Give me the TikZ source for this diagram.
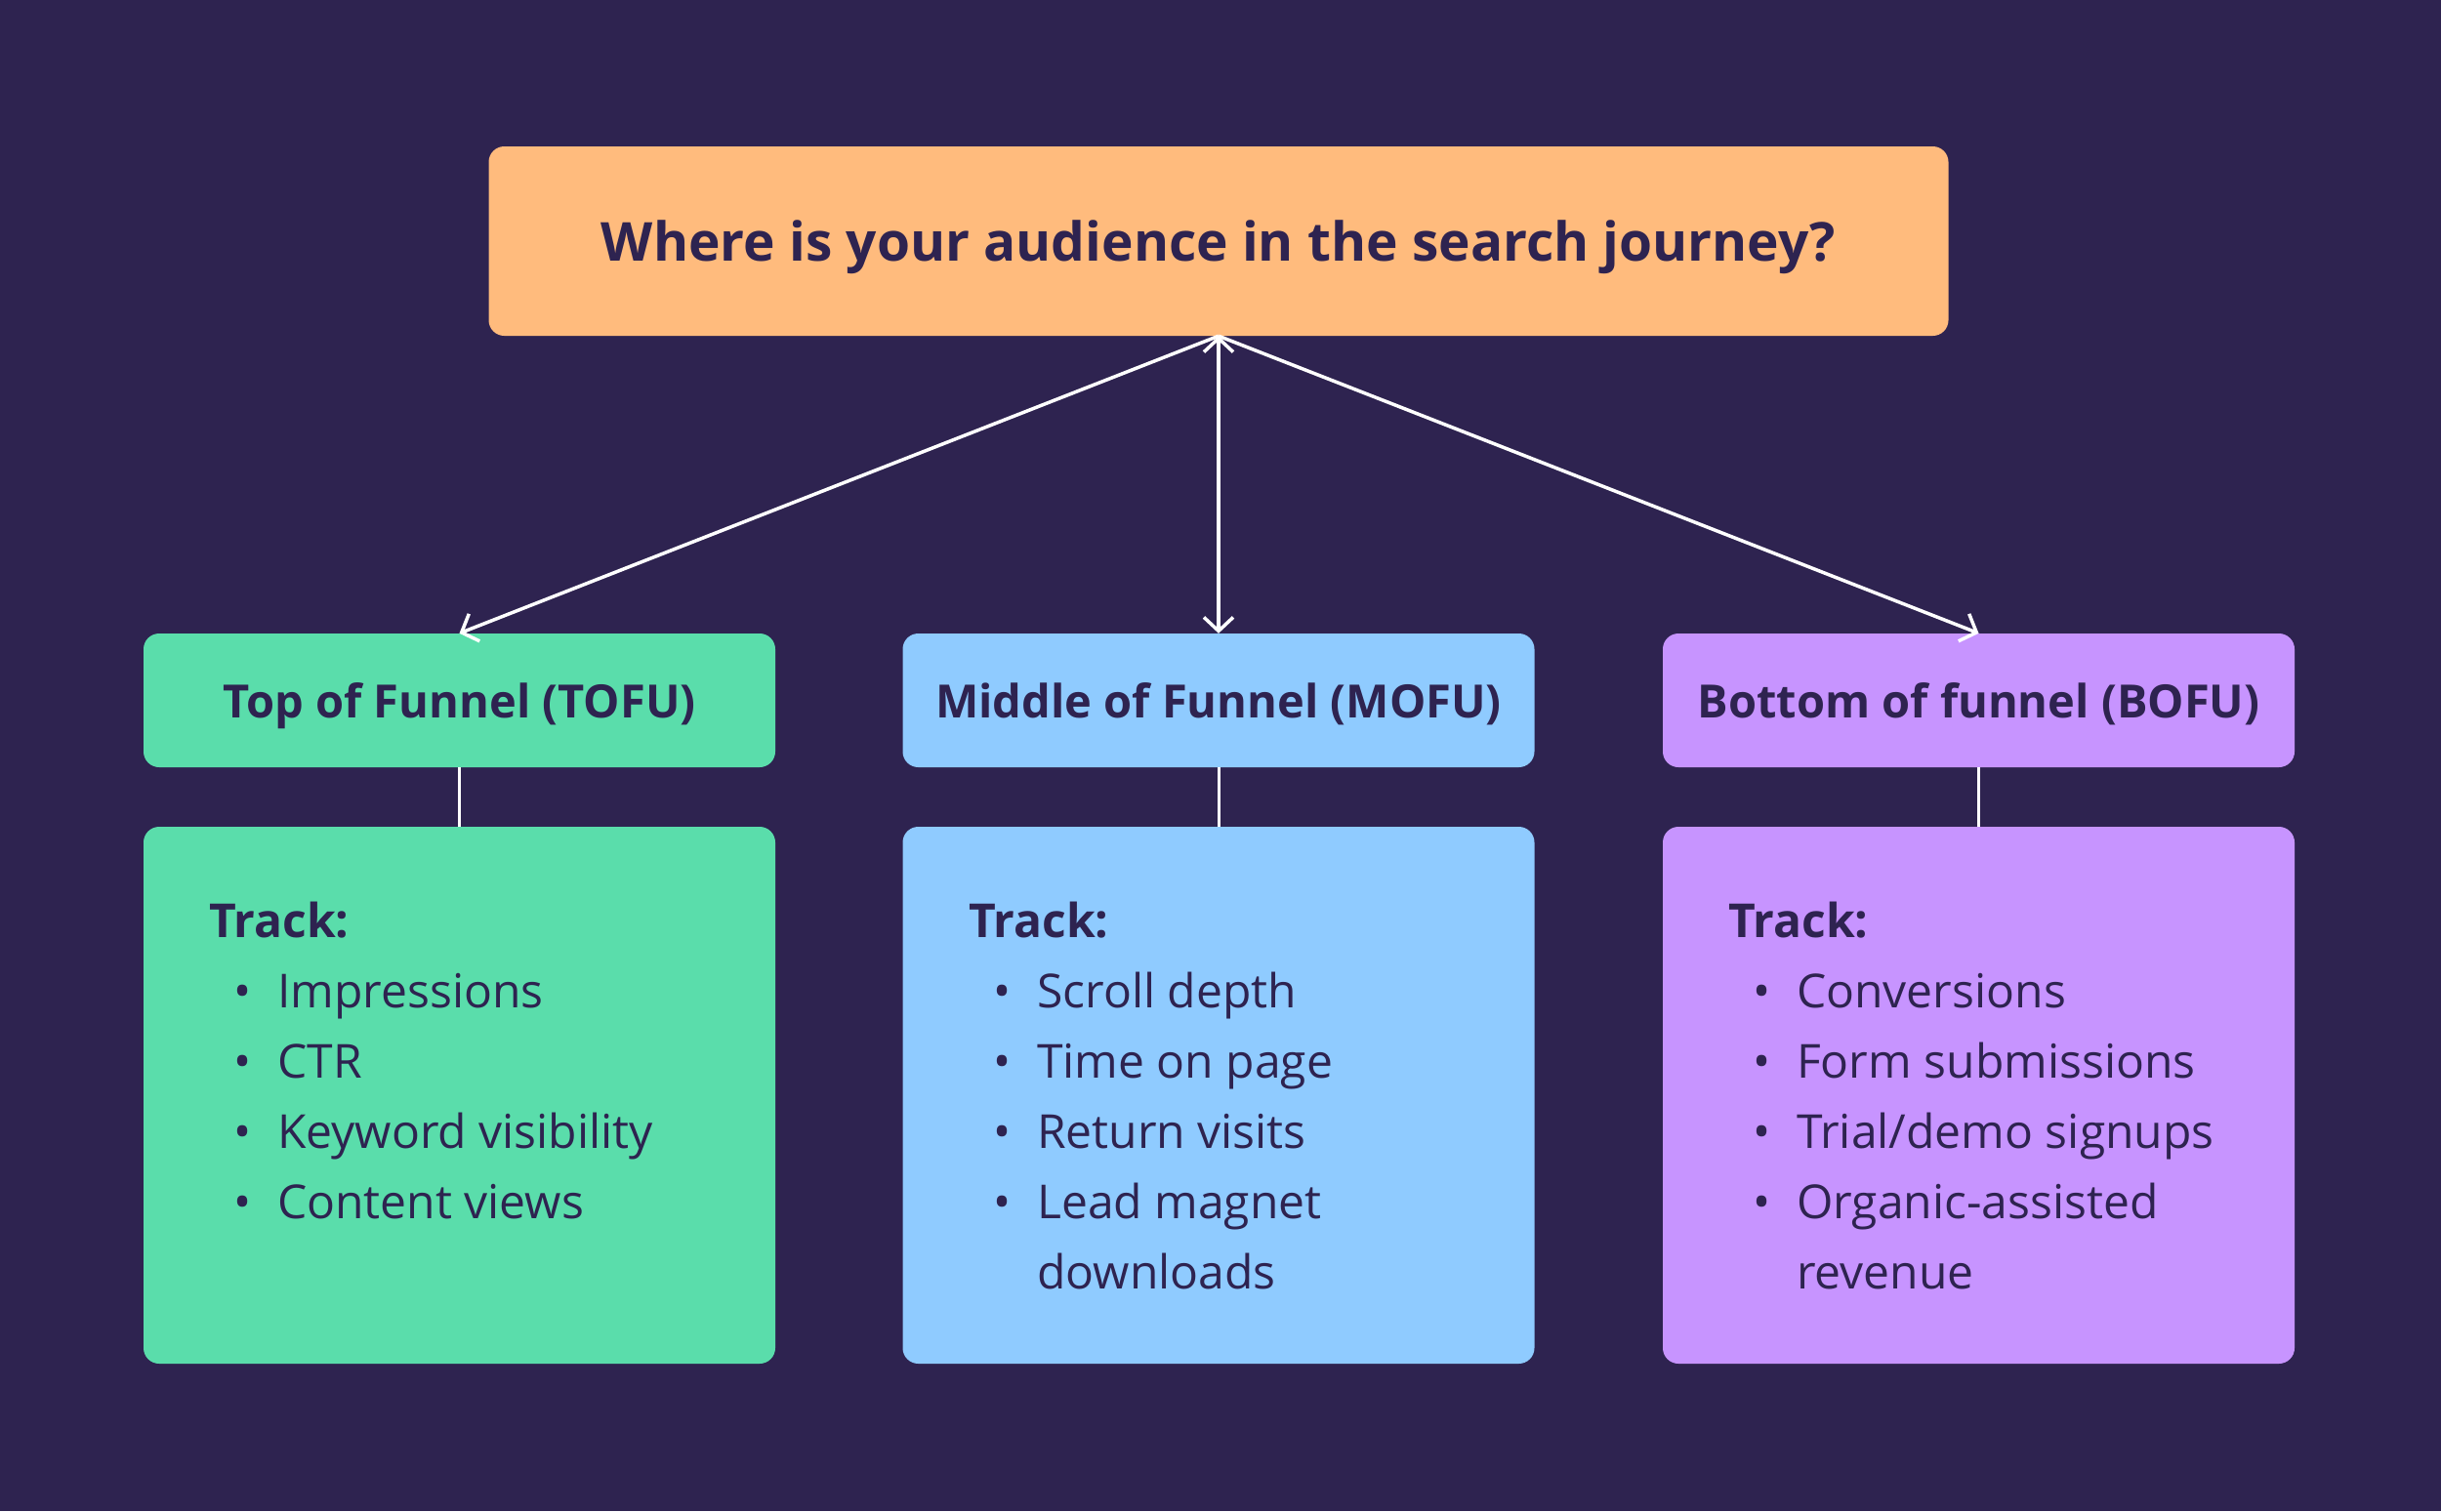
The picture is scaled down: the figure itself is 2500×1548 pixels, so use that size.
\documentclass[tikz,border=0pt]{standalone}
\usepackage{fontspec}
\setmainfont{Open Sans}
\usetikzlibrary{arrows.meta}
\definecolor{bgc}{HTML}{2E2350}
\definecolor{ink}{HTML}{2E2350}
\definecolor{qorange}{HTML}{FFBB7D}
\definecolor{tofuc}{HTML}{5ADDAB}
\definecolor{mofuc}{HTML}{8FCBFF}
\definecolor{bofuc}{HTML}{C794FF}
\newcommand\itm[1]{\hspace*{25pt}\makebox[45pt][l]{\textbullet}#1}
\newcommand\cont[1]{\hspace*{70pt}#1}
\begin{document}
\begin{tikzpicture}[x=1pt,y=-1pt]
        \tikzset{
        q node/.style={rounded corners=16pt,fill=qorange,minimum width=1495pt,minimum height=194pt,text depth=0pt,text=ink,font=\fontsize{55}{66}\selectfont\bfseries},
        stage node/.style={rounded corners=16pt,minimum width=647pt,minimum height=137pt,text depth=0pt,text=ink,font=\fontsize{47}{56}\selectfont\bfseries},
        track node/.style={rounded corners=16pt,minimum width=647pt,minimum height=550pt},
        track text/.style={anchor=north west,align=left,inner sep=0,text=ink,font=\fontsize{48}{72}\selectfont},
        q edge/.style={draw=white,line width=3.5pt,-{Straight Barb[length=14pt,width=30pt]}}
        }
        \fill[bgc] (0,0) rectangle (2500,1548);
        \node[q node] (q) at (1248, 247) {Where is your audience in the search journey?};
        \node[stage node,fill=tofuc] (t) at (470.5, 717.5) {Top of Funnel (TOFU)};
        \node[stage node,fill=mofuc] (m) at (1248, 717.5) {Middle of Funnel (MOFU)};
        \node[stage node,fill=bofuc] (b) at (2026.5, 717.5) {Bottom of funnel (BOFU)};
        \node[track node,fill=tofuc] (tt) at (470.5, 1122) {};
        \node[track node,fill=mofuc] (mt) at (1248, 1122) {};
        \node[track node,fill=bofuc] (bt) at (2026.5, 1122) {};

        \node[track text] (ttx) at (214, 924) {\textbf{Track:}\\ \itm{Impressions}\\ \itm{CTR}\\ \itm{Keyword visibility}\\ \itm{Content views}};
        \node[track text] (mtx) at (992, 924) {\textbf{Track:}\\ \itm{Scroll depth}\\ \itm{Time on page}\\ \itm{Return visits}\\ \itm{Lead magnet}\\ \cont{downloads}};
        \node[track text] (btx) at (1770, 924) {\textbf{Track:}\\ \itm{Conversions}\\ \itm{Form submissions}\\ \itm{Trial/demo signups}\\ \itm{Organic-assisted}\\ \cont{revenue}};

        \path[q edge]
        (q.south) edge (t.north)
        (q.south) edge (m.north)
        (q.south) edge (b.north)
        ;
        \path[-,draw=white,line width=3pt]
        (t) edge (tt)
        (m) edge (mt)
        (b) edge (bt)
        ;
    \end{tikzpicture}
\end{document}
